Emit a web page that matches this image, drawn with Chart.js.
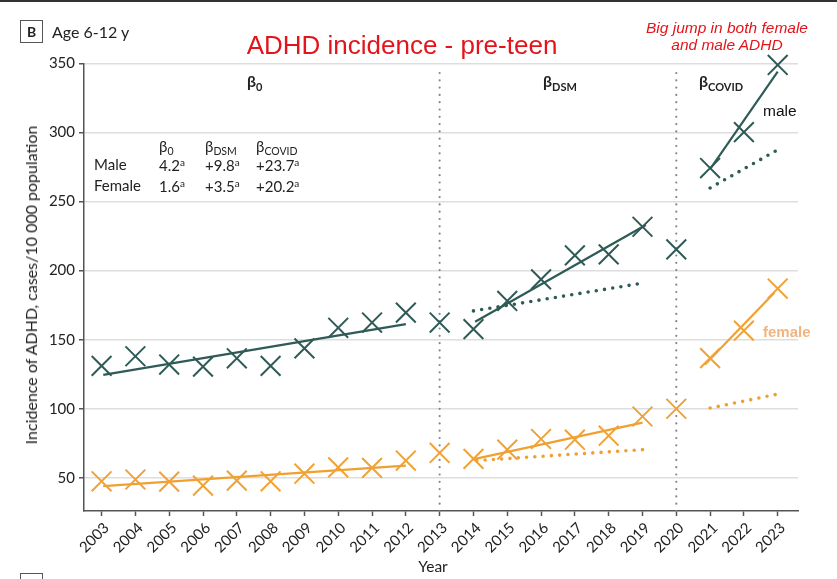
<!DOCTYPE html>
<html><head><meta charset="utf-8">
<script src="https://cdn.jsdelivr.net/npm/chart.js@4.4.1/dist/chart.umd.min.js"></script>
<style>
html,body{margin:0;padding:0;background:#fff;overflow:hidden;}
#wrap{position:relative;width:837px;height:579px;overflow:hidden;font-family:Lato,"Open Sans",sans-serif;color:#222;background:#fff;}
canvas{position:absolute;left:0;top:0;}
.t{position:absolute;white-space:nowrap;line-height:1;}
.b{font-weight:700;font-size:16px;}
.b sub{font-size:11px;vertical-align:-4px;}
.tb{font-size:15px;}
.tb sub{font-size:10.5px;vertical-align:-3px;}
.tb sup{font-size:10px;vertical-align:5px;}
</style></head><body>
<div id="wrap">
<canvas id="c" width="837" height="579"></canvas>
<div style="position:absolute;left:0;top:0;width:837px;height:1.5px;background:#333;"></div>
<div style="position:absolute;left:20px;top:20px;width:21px;height:21px;border:1px solid #555;font:700 14px Lato,sans-serif;text-align:center;line-height:21px;">B</div>
<div class="t" style="left:52px;top:24px;font-size:16px;">Age 6-12 y</div>
<div class="t" style="left:402px;top:29.6px;transform:translateX(-50%);font:26px 'Liberation Sans',Arial,sans-serif;color:#e3141b;">ADHD incidence - pre-teen</div>
<div class="t" style="left:727px;top:19px;transform:translateX(-50%);font:italic 15.5px 'Liberation Sans',Arial,sans-serif;line-height:17px;color:#e3141b;text-align:center;">Big jump in both female<br>and male ADHD</div>
<div class="t b" style="left:247px;top:73px;">β<sub>0</sub></div>
<div class="t b" style="left:543px;top:73px;">β<sub>DSM</sub></div>
<div class="t b" style="left:699px;top:73px;">β<sub>COVID</sub></div>
<div class="t tb" style="left:159px;top:139px;">β<sub>0</sub></div>
<div class="t tb" style="left:205px;top:139px;">β<sub>DSM</sub></div>
<div class="t tb" style="left:256px;top:139px;">β<sub>COVID</sub></div>
<div class="t tb" style="left:94px;top:157px;">Male</div>
<div class="t tb" style="left:159px;top:157px;">4.2<sup>a</sup></div>
<div class="t tb" style="left:205px;top:157px;">+9.8<sup>a</sup></div>
<div class="t tb" style="left:256px;top:157px;">+23.7<sup>a</sup></div>
<div class="t tb" style="left:94px;top:178px;">Female</div>
<div class="t tb" style="left:159px;top:178px;">1.6<sup>a</sup></div>
<div class="t tb" style="left:205px;top:178px;">+3.5<sup>a</sup></div>
<div class="t tb" style="left:256px;top:178px;">+20.2<sup>a</sup></div>
<div class="t" style="left:763px;top:101.5px;font:15.5px 'Liberation Sans',Arial,sans-serif;color:#111;">male</div>
<div class="t" style="left:763px;top:322.5px;font:700 15px 'Liberation Sans',Arial,sans-serif;color:#f2b47e;">female</div>
<div class="t" style="left:31px;top:285px;transform:translate(-50%,-50%) rotate(-90deg);font-size:16px;font-weight:400;color:#222;">Incidence of ADHD, cases/10 000 population</div>
<div class="t" style="left:433px;top:559px;transform:translateX(-50%);font-size:15.5px;">Year</div>
<div style="position:absolute;left:20px;top:573px;width:21px;height:30px;border:1px solid #555;"></div>
</div>
<script>
const years = [2003,2004,2005,2006,2007,2008,2009,2010,2011,2012,2013,2014,2015,2016,2017,2018,2019,2020,2021,2022,2023];
const maleIncidence = [131,138,132,130.5,136.5,131,143.7,158.6,162.4,169.6,162.4,157.6,178,193.6,211,211.7,231.7,215.3,274.2,300.2,348.8];
const femaleIncidence = [47.5,48.8,47.3,44.4,48,47.5,53,57.6,57.2,62.5,68,63.7,70.4,78.1,77.6,80.5,94.4,100,136.6,156.5,187];
const yTicks = [50,100,150,200,250,300,350];
const periodBreaks = [2013,2020];

const maleFitP1X = [2003.05,2012], maleFitP1Y = [124.5,161.3];
const maleFitP2X = [2014.05,2019.1], maleFitP2Y = [163,233];
const maleCfP2X = [2014,2018.9], maleCfP2Y = [170.8,190.5];
const maleFitP3X = [2021,2023], maleFitP3Y = [273.5,344];
const maleCfP3X = [2021,2023], maleCfP3Y = [259.8,287.4];
const femaleFitP1X = [2003.05,2012], femaleFitP1Y = [44,58.9];
const femaleFitP2X = [2014.05,2019], femaleFitP2Y = [63.7,90];
const femaleCfP2X = [2014.1,2019], femaleCfP2Y = [62.5,70.4];
const femaleFitP3X = [2020.85,2022.9], femaleFitP3Y = [132,184];
const femaleCfP3X = [2021,2023], femaleCfP3Y = [100.5,110.6];

const maleColor = '#2f5b57';
const femaleColor = '#f0a030';
const femaleMarker = '#f0a236';
const Y_MIN = 26, Y_MAX = 350;

function pts(xs, ys){ return xs.map((x,i)=>({x:x, y:ys[i]})); }
function markers(ys, color){
  return {type:'scatter', data:pts(years, ys), showLine:false, pointStyle:'crossRot',
    pointRadius:14, pointHoverRadius:14, pointBorderWidth:2, borderColor:color, backgroundColor:color, clip:false};
}
function solid(xs, ys, color){
  return {type:'line', data:pts(xs, ys), borderColor:color, borderWidth:2.2, pointRadius:0, fill:false, tension:0, clip:false};
}
function dotted(xs, ys, color){
  return {type:'line', data:pts(xs, ys), borderColor:color, borderWidth:3.6, borderDash:[0,8.3], borderCapStyle:'round', pointRadius:0, fill:false, tension:0, clip:false};
}
const breakLines = periodBreaks.map(b => ({type:'line', data:[{x:b,y:Y_MIN},{x:b,y:346}], borderColor:'#858585', borderWidth:2.2, borderDash:[0,7.3], borderCapStyle:'round', pointRadius:0, fill:false, clip:false}));

new Chart(document.getElementById('c'), {
  data: {datasets: [
    markers(maleIncidence, maleColor),
    markers(femaleIncidence, femaleMarker),
    solid(maleFitP1X, maleFitP1Y, maleColor),
    solid(maleFitP2X, maleFitP2Y, maleColor),
    solid(maleFitP3X, maleFitP3Y, maleColor),
    dotted(maleCfP2X, maleCfP2Y, maleColor),
    dotted(maleCfP3X, maleCfP3Y, maleColor),
    solid(femaleFitP1X, femaleFitP1Y, femaleColor),
    solid(femaleFitP2X, femaleFitP2Y, femaleColor),
    solid(femaleFitP3X, femaleFitP3Y, femaleColor),
    dotted(femaleCfP2X, femaleCfP2Y, femaleColor),
    dotted(femaleCfP3X, femaleCfP3Y, femaleColor),
    ...breakLines
  ]},
  options: {
    responsive:false, animation:false, devicePixelRatio:1,
    layout:{padding:{top:63.3, right:39, left:0, bottom:0}},
    plugins:{legend:{display:false}, tooltip:{enabled:false}},
    scales:{
      x:{type:'linear', min:2002.48, max:2023.6,
        afterBuildTicks: s => { s.ticks = years.map(v => ({value:v})); },
        afterFit: s => { s.height = 68; },
        grid:{drawOnChartArea:false, tickColor:'#555', tickLength:5, tickWidth:1.5},
        border:{color:'#555', width:1.5},
        ticks:{autoSkip:false, minRotation:45, maxRotation:45, padding:3, labelOffset:5, color:'#222',
          font:{family:'Lato', size:15}, callback: v => String(v)}
      },
      y:{type:'linear', min:Y_MIN, max:Y_MAX,
        afterBuildTicks: s => { s.ticks = yTicks.map(v => ({value:v})); },
        afterFit: s => { s.width = 84; },
        grid:{color:'#dedede', lineWidth:1.5, tickColor:'#555', tickLength:5, tickWidth:1.5},
        border:{color:'#555', width:1.5},
        ticks:{padding:4, color:'#222', font:{family:'Lato', size:15}}
      }
    }
  }
});
</script>
</body></html>
